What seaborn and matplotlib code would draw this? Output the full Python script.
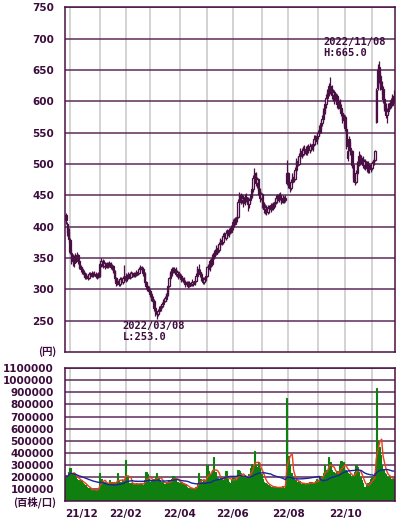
import numpy as np
import pandas as pd
import matplotlib
matplotlib.use("Agg")
import matplotlib.pyplot as plt
import seaborn as sns
from matplotlib.transforms import ScaledTranslation

sns.set_style("white")
plt.rcParams["font.family"] = ["DejaVu Sans"]

# ---------------- data (daily, trading-day index) ----------------
opens = [
    418, 405, 392, 378, 358, 347, 350, 344, 352, 354,
    345, 335, 332, 328, 325, 320, 322, 318, 324, 322,
    326, 323, 325, 322, 320, 322, 340, 345, 338, 342,
    336, 340, 338, 342, 335, 337, 330, 318, 310, 313,
    309, 316, 312, 318, 315, 322, 318, 324, 320, 326,
    322, 325, 323, 328, 326, 332, 336, 333, 326, 312,
    305, 302, 298, 292, 285, 282, 270, 262, 260, 266,
    268, 274, 276, 282, 284, 292, 305, 318, 326, 332,
    330, 333, 325, 328, 320, 322, 316, 318, 312, 308,
    311, 306, 310, 308, 312, 309, 314, 322, 332, 328,
    325, 318, 312, 316, 322, 335, 332, 345, 340, 352,
    358, 356, 366, 362, 372, 378, 375, 385, 382, 390,
    386, 394, 392, 398, 408, 405, 412, 416, 440, 450,
    442, 446, 438, 448, 444, 436, 442, 448, 460, 478,
    486, 470, 476, 458, 446, 452, 438, 428, 432, 424,
    430, 428, 434, 430, 436, 440, 446, 442, 450, 446,
    440, 446, 443, 470, 486, 468, 462, 472, 480, 476,
    490, 505, 500, 512, 520, 516, 522, 518, 524, 526,
    522, 528, 524, 532, 540, 536, 545, 550, 556, 565,
    572, 585, 596, 605, 615, 624, 620, 610, 615, 602,
    608, 596, 600, 590, 582, 570, 575, 556, 510, 540,
    525, 520, 498, 478, 472, 486, 500, 512, 504, 510,
    498, 505, 494, 500, 492, 498, 494, 502, 506, 567,
    622, 655, 640, 625, 620, 603, 590, 578, 585, 592,
    598, 594, 608,
]
highs = [
    421, 408, 398, 382, 362, 356, 354, 358, 360, 357,
    347, 339, 335, 331, 328, 326, 325, 327, 328, 329,
    328, 330, 327, 326, 328, 342, 350, 348, 346, 344,
    344, 343, 345, 344, 341, 339, 331, 320, 318, 316,
    320, 319, 322, 339, 326, 325, 328, 327, 329, 328,
    328, 327, 331, 330, 335, 339, 338, 335, 327, 314,
    308, 305, 300, 295, 290, 284, 272, 265, 269, 273,
    277, 280, 285, 290, 294, 307, 320, 330, 335, 336,
    336, 335, 331, 330, 326, 324, 322, 320, 315, 314,
    313, 313, 312, 316, 314, 318, 326, 337, 340, 332,
    327, 320, 320, 326, 338, 340, 348, 350, 356, 362,
    364, 370, 372, 376, 382, 384, 390, 392, 394, 396,
    398, 400, 402, 412, 414, 416, 420, 444, 455, 454,
    452, 450, 452, 453, 448, 446, 452, 465, 482, 494,
    488, 480, 478, 462, 456, 454, 440, 436, 435, 434,
    434, 438, 438, 440, 444, 450, 452, 454, 455, 450,
    450, 449, 450, 506, 488, 472, 476, 486, 488, 495,
    510, 512, 518, 525, 526, 528, 530, 528, 531, 532,
    533, 532, 536, 546, 547, 550, 555, 562, 570, 578,
    590, 600, 612, 620, 630, 639, 626, 620, 618, 614,
    612, 606, 604, 596, 586, 580, 578, 560, 525, 545,
    535, 522, 500, 484, 490, 504, 520, 516, 514, 512,
    508, 508, 504, 504, 502, 500, 505, 510, 522, 622,
    660, 665, 645, 632, 624, 606, 597, 590, 598, 602,
    605, 612, 618,
]
lows = [
    405, 385, 376, 356, 340, 338, 336, 342, 346, 340,
    332, 328, 324, 320, 317, 316, 315, 316, 319, 320,
    320, 321, 318, 317, 318, 320, 336, 334, 335, 332,
    334, 334, 335, 332, 331, 326, 314, 306, 307, 305,
    306, 308, 309, 312, 312, 314, 316, 317, 318, 319,
    320, 319, 321, 323, 324, 330, 329, 322, 308, 301,
    298, 294, 288, 281, 278, 266, 258, 253, 257, 262,
    265, 270, 272, 279, 281, 290, 303, 315, 322, 326,
    326, 322, 320, 317, 316, 312, 313, 308, 304, 305,
    302, 304, 305, 306, 305, 307, 312, 320, 324, 320,
    314, 308, 309, 313, 320, 326, 330, 336, 338, 348,
    352, 354, 358, 360, 368, 370, 372, 378, 379, 382,
    384, 388, 390, 395, 400, 402, 408, 414, 436, 436,
    438, 432, 434, 440, 425, 430, 438, 445, 456, 474,
    465, 462, 450, 440, 442, 430, 422, 420, 418, 420,
    422, 424, 426, 427, 432, 436, 438, 440, 442, 436,
    438, 437, 439, 466, 462, 456, 458, 468, 472, 474,
    486, 496, 498, 508, 510, 512, 514, 514, 515, 518,
    518, 520, 520, 528, 530, 532, 540, 545, 550, 560,
    568, 580, 590, 600, 608, 612, 604, 600, 596, 595,
    590, 588, 584, 576, 565, 560, 552, 524, 505, 520,
    515, 494, 472, 466, 469, 482, 496, 498, 500, 494,
    492, 490, 488, 486, 485, 488, 490, 498, 504, 565,
    618, 630, 618, 612, 598, 585, 574, 565, 580, 588,
    590, 592, 598,
]
closes = [
    410, 390, 380, 360, 345, 350, 342, 352, 355, 345,
    335, 332, 328, 325, 320, 322, 318, 324, 322, 326,
    323, 325, 322, 320, 325, 340, 345, 338, 342, 336,
    340, 338, 342, 335, 337, 330, 318, 310, 313, 309,
    316, 312, 318, 315, 322, 318, 324, 320, 326, 322,
    325, 323, 328, 326, 332, 336, 333, 326, 312, 305,
    302, 298, 292, 285, 282, 270, 262, 260, 266, 270,
    274, 276, 282, 286, 292, 305, 318, 326, 332, 330,
    333, 325, 328, 320, 322, 316, 318, 312, 308, 311,
    306, 310, 308, 312, 309, 314, 322, 332, 328, 325,
    318, 312, 316, 322, 335, 332, 345, 340, 352, 358,
    356, 366, 362, 372, 378, 375, 385, 382, 390, 386,
    394, 392, 398, 408, 405, 412, 416, 440, 450, 442,
    446, 438, 448, 444, 436, 442, 448, 460, 478, 486,
    470, 476, 458, 446, 452, 438, 428, 432, 424, 430,
    428, 434, 430, 436, 440, 446, 442, 450, 446, 440,
    446, 443, 445, 486, 468, 462, 472, 480, 476, 490,
    505, 500, 512, 520, 516, 522, 518, 524, 526, 522,
    528, 524, 532, 540, 536, 545, 550, 556, 565, 572,
    585, 596, 605, 615, 624, 620, 610, 615, 602, 608,
    596, 600, 590, 582, 570, 575, 558, 528, 520, 525,
    522, 498, 478, 472, 486, 500, 512, 504, 510, 498,
    505, 494, 500, 492, 498, 494, 502, 506, 520, 618,
    650, 640, 625, 620, 603, 590, 578, 585, 592, 598,
    594, 608, 602,
]
volume = [
    210000, 190000, 240000, 270000, 230000, 210000, 220000, 200000, 180000, 170000,
    160000, 175000, 150000, 140000, 130000, 120000, 110000, 105000, 95000, 85000,
    90000, 100000, 80000, 95000, 110000, 230000, 180000, 150000, 160000, 140000,
    150000, 130000, 170000, 145000, 160000, 140000, 150000, 150000, 230000, 170000,
    160000, 150000, 170000, 180000, 340000, 200000, 150000, 140000, 150000, 130000,
    145000, 140000, 150000, 135000, 140000, 150000, 145000, 135000, 170000, 240000,
    220000, 180000, 160000, 170000, 150000, 180000, 200000, 230000, 200000, 170000,
    150000, 160000, 140000, 145000, 155000, 160000, 170000, 150000, 180000, 210000,
    200000, 180000, 160000, 150000, 140000, 155000, 135000, 140000, 130000, 120000,
    110000, 100000, 95000, 105000, 110000, 100000, 120000, 140000, 230000, 180000,
    160000, 150000, 170000, 160000, 300000, 250000, 200000, 220000, 260000, 365000,
    240000, 200000, 190000, 175000, 210000, 180000, 170000, 190000, 250000, 180000,
    160000, 150000, 170000, 210000, 190000, 170000, 160000, 260000, 250000, 230000,
    200000, 180000, 210000, 200000, 180000, 220000, 270000, 310000, 290000, 417000,
    300000, 280000, 320000, 270000, 220000, 180000, 160000, 150000, 140000, 130000,
    125000, 120000, 115000, 110000, 120000, 115000, 105000, 110000, 115000, 120000,
    125000, 110000, 150000, 856000, 370000, 300000, 230000, 200000, 180000, 170000,
    160000, 150000, 165000, 140000, 130000, 150000, 145000, 140000, 150000, 135000,
    160000, 155000, 140000, 150000, 165000, 180000, 170000, 200000, 210000, 195000,
    230000, 300000, 260000, 240000, 368000, 320000, 260000, 240000, 220000, 230000,
    250000, 200000, 300000, 330000, 280000, 320000, 260000, 250000, 230000, 220000,
    200000, 210000, 190000, 240000, 300000, 280000, 240000, 200000, 170000, 150000,
    120000, 110000, 130000, 150000, 160000, 180000, 200000, 190000, 230000, 933000,
    500000, 450000, 380000, 300000, 260000, 230000, 220000, 200000, 190000, 210000,
    180000, 170000, 190000,
]
month_pos = [3, 25, 44, 62, 84, 104, 123, 145, 164, 186, 206, 226]
month_labels = ["21/12", "", "22/02", "", "22/04", "", "22/06", "", "22/08", "", "22/10", ""]
price_ticks = [250, 300, 350, 400, 450, 500, 550, 600, 650, 700, 750]
vol_ticks = [100000, 200000, 300000, 400000, 500000, 600000, 700000, 800000, 900000, 1000000, 1100000]
high_note = "2022/11/08\nH:665.0"
low_note = "2022/03/08\nL:253.0"

# ---------------- styling ----------------
DARK = "#4a1043"
GRID_H = "#5c2c58"
GRID_V = "#c8c8c8"
TXT = "#3c0c3c"
GREEN = "#0f800f"
RED = "#e8401c"
BLUE = "#1c249c"

df = pd.DataFrame({"o": opens, "h": highs, "l": lows, "c": closes})
df["i"] = np.arange(len(df))
vdf = pd.DataFrame({"i": np.arange(len(volume)), "v": volume})
vdf["ma5"] = vdf["v"].rolling(5, min_periods=1).mean()
vdf["ma25"] = vdf["v"].rolling(25, min_periods=1).mean()

fig = plt.figure(figsize=(4.0, 5.26), dpi=100)
ax1 = fig.add_axes([65 / 400, 1 - 352 / 526, 330 / 400, (352 - 7.3) / 526])
ax2 = fig.add_axes([65 / 400, 1 - 501 / 526, 330 / 400, (501 - 368.3) / 526])
xlim = (3 - 5 / 1.355, 3 + 325 / 1.355)

# ---- price (candles) ----
up = df["c"] >= df["o"]
ax1.vlines(df["i"], df["l"], df["h"], color=DARK, lw=0.9, zorder=3)
body_h = (df["c"] - df["o"]).abs().clip(lower=1.0)
body_b = df[["o", "c"]].min(axis=1)
ax1.bar(df["i"], body_h, bottom=body_b, width=1.0,
        color=np.where(up, "#f4eef4", DARK), edgecolor=DARK, linewidth=0.9, zorder=4)

ax1.set_xlim(*xlim)
ax1.set_ylim(200, 750)
ax1.set_yticks(price_ticks)
ax1.set_yticklabels([str(t) for t in price_ticks])
ax1.set_xticks(month_pos)
ax1.set_xticklabels([])
ax1.tick_params(axis="x", length=0)
ax1.tick_params(axis="y", length=6, width=1, color=DARK, pad=2, labelsize=7.5, labelcolor=TXT)
for lab in ax1.get_yticklabels():
    lab.set_fontweight("bold")
ax1.set_axisbelow(True)
ax1.yaxis.grid(True, color=GRID_H, lw=1.1)
ax1.xaxis.grid(True, color=GRID_V, lw=1.1)
for s in ax1.spines.values():
    s.set_color(DARK)
    s.set_linewidth(1.1)

ax1.text(190, 703, high_note, ha="left", va="top", fontsize=7.5, fontweight="bold",
         family="DejaVu Sans Mono", color=TXT, linespacing=1.15, zorder=6)
ax1.text(42, 250, low_note, ha="left", va="top", fontsize=7.5, fontweight="bold",
         family="DejaVu Sans Mono", color=TXT, linespacing=1.15, zorder=6)

# ---- volume ----
sns.barplot(data=vdf, x="i", y="v", native_scale=True, color=GREEN, width=1.0,
            saturation=1, linewidth=0.8, edgecolor=GREEN, errorbar=None, ax=ax2, zorder=2)
sns.lineplot(data=vdf, x="i", y="ma5", color=RED, lw=1.0, ax=ax2, zorder=3)
sns.lineplot(data=vdf, x="i", y="ma25", color=BLUE, lw=1.0, ax=ax2, zorder=4)

ax2.set_xlim(*xlim)
ax2.set_ylim(0, 1100000)
ax2.set_yticks(vol_ticks)
ax2.set_yticklabels([str(t) for t in vol_ticks])
ax2.set_xticks(month_pos)
ax2.set_xticklabels(month_labels)
ax2.set_xlabel("")
ax2.set_ylabel("")
ax2.tick_params(axis="y", length=6, width=1, color=DARK, pad=2, labelsize=7.5, labelcolor=TXT)
ax2.tick_params(axis="x", length=4, width=1, color=DARK, pad=2, labelsize=7.5, labelcolor=TXT)
for lab in ax2.get_yticklabels() + ax2.get_xticklabels():
    lab.set_fontweight("bold")
first = ax2.get_xticklabels()[0]
first.set_ha("left")
first.set_transform(first.get_transform() + ScaledTranslation(-5 / 100, 0, fig.dpi_scale_trans))
ax2.set_axisbelow(True)
ax2.yaxis.grid(True, color=GRID_H, lw=1.1)
ax2.xaxis.grid(True, color=GRID_V, lw=1.1)
for s in ax2.spines.values():
    s.set_color(DARK)
    s.set_linewidth(1.1)

cjk = ["Noto Sans CJK JP", "DejaVu Sans"]
fig.text(56 / 400, 1 - 352 / 526, "(円)", ha="right", va="center", fontsize=7.5,
         fontweight="bold", family=cjk, color=TXT)
fig.text(56 / 400, 1 - 502 / 526, "(百株/口)", ha="right", va="center", fontsize=7.5,
         fontweight="bold", family=cjk, color=TXT)

fig.savefig("out.png", dpi=100)
